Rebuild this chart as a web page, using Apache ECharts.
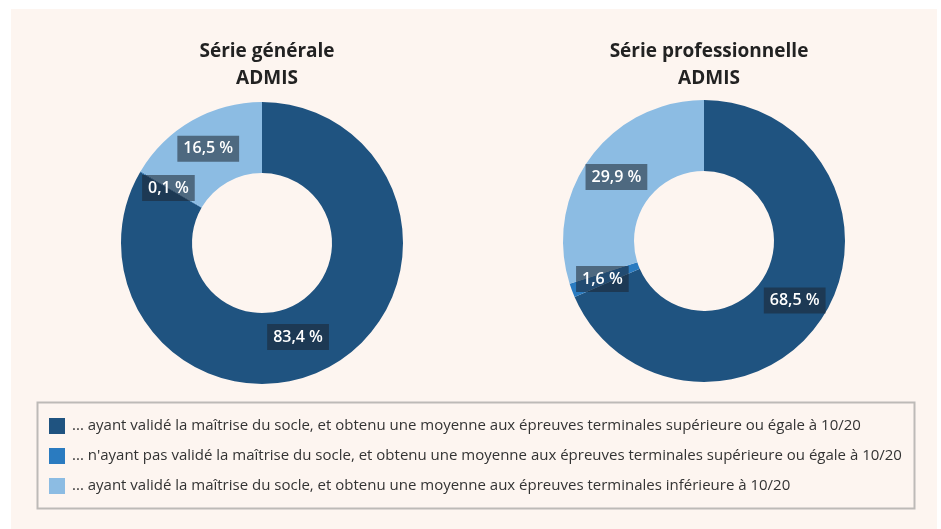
<!DOCTYPE html>
<html><head><meta charset="utf-8">
<script src="https://cdn.jsdelivr.net/npm/echarts@6/dist/echarts.min.js"></script>
<style>html,body{margin:0;padding:0;background:#fff}#c{width:941px;height:529px}</style>
</head><body><div id="c"></div>
<script>
const categories = [
  "... ayant validé la maîtrise du socle, et obtenu une moyenne aux épreuves terminales supérieure ou égale à 10/20",
  "... n'ayant pas validé la maîtrise du socle, et obtenu une moyenne aux épreuves terminales supérieure ou égale à 10/20",
  "... ayant validé la maîtrise du socle, et obtenu une moyenne aux épreuves terminales inférieure à 10/20"
];
const generaleValues = [83.4, 0.1, 16.5];
const proValues = [68.5, 1.6, 29.9];
const titles = ["Série générale\nADMIS", "Série professionnelle\nADMIS"];
const colors = ["#1f5380", "#2a7bc0", "#8cbce3"];

const FONT = "'Open Sans', sans-serif";
const labelStyle = {
  show: true, position: 'inside', color: '#fff', fontFamily: FONT, fontSize: 16, fontWeight: 600,
  backgroundColor: 'rgba(28,36,48,0.55)', padding: [5, 6],
  formatter: p => String(p.value).replace('.', ',') + ' %'
};
function mk(vals, center, offsets) {
  return {
    type: 'pie', center: center, radius: [70, 141], startAngle: 90, clockwise: true,
    avoidLabelOverlap: false, labelLine: {show: false}, emphasis: {disabled: true},
    label: labelStyle,
    data: vals.map((v, i) => ({name: categories[i], value: v,
      label: offsets && offsets[i] ? {offset: offsets[i]} : undefined}))
  };
}
const chart = echarts.init(document.getElementById('c'), null, {renderer: 'canvas'});
chart.setOption({
  animation: false,
  backgroundColor: '#fff',
  color: colors,
  graphic: [
    {type: 'rect', z: -10, shape: {x: 11, y: 9, width: 926, height: 530}, style: {fill: '#fdf5f0'}},
    {type: 'rect', z: -5, shape: {x: 37.5, y: 402.5, width: 877, height: 106}, style: {fill: 'none', stroke: '#bdbab7', lineWidth: 2}}
  ],
  title: [
    {text: titles[0], left: 262, top: 33, textAlign: 'center',
     textStyle: {fontFamily: FONT, fontSize: 19, fontWeight: 'bold', color: '#222', lineHeight: 27}},
    {text: titles[1], left: 704, top: 33, textAlign: 'center',
     textStyle: {fontFamily: FONT, fontSize: 19, fontWeight: 'bold', color: '#222', lineHeight: 27}}
  ],
  legend: {
    orient: 'vertical', left: 49, top: 418, padding: 0, icon: 'rect', itemWidth: 16, itemHeight: 16, itemGap: 14,
    selectedMode: false, data: categories,
    textStyle: {fontFamily: FONT, fontSize: 15, color: '#333', padding: [0, 0, 0, 2]}
  },
  series: [
    mk(generaleValues, [262, 243], [[-18, 0], null, null]),
    mk(proValues, [704, 241], null)
  ]
});
</script></body></html>
